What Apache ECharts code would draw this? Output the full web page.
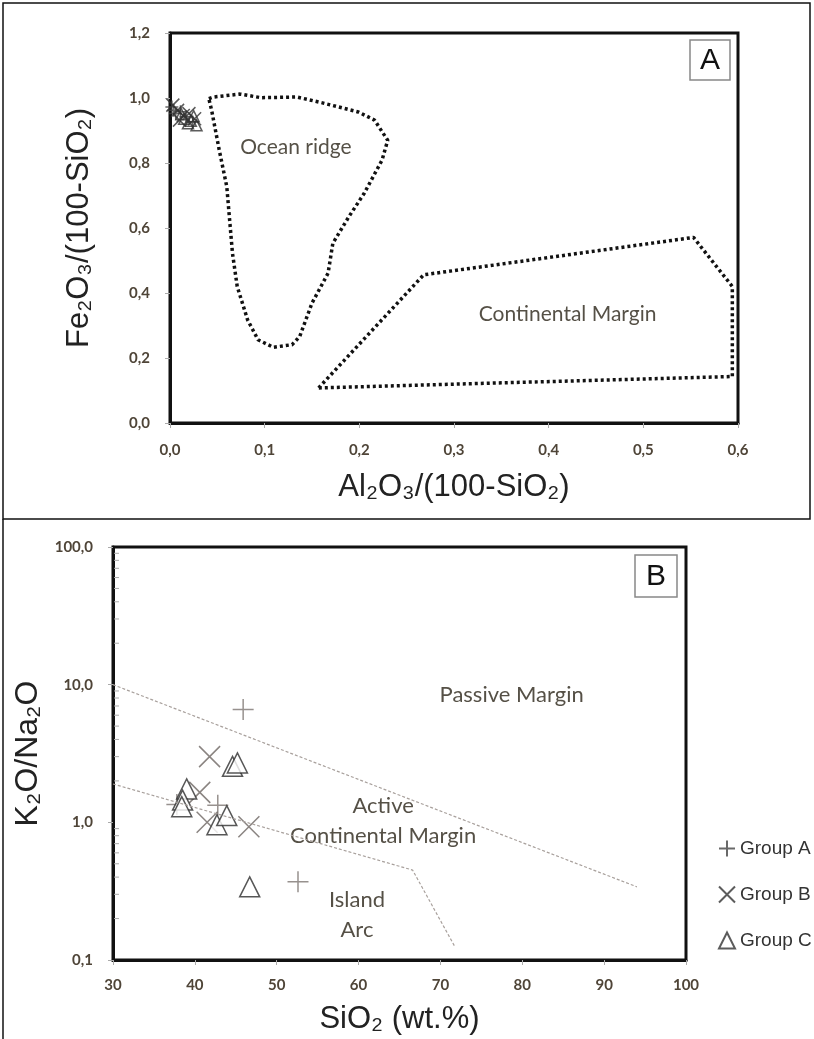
<!DOCTYPE html>
<html>
<head>
<meta charset="utf-8">
<script src="https://cdn.jsdelivr.net/npm/echarts@6.0.0/dist/echarts.min.js"></script>
<style>
html, body { margin: 0; padding: 0; background: #fff; }
#main { width: 814px; height: 1039px; }
</style>
</head>
<body>
<div id="main"></div>
<script>
// panel A : Fe2O3/(100-SiO2) vs Al2O3/(100-SiO2)
const topGroupA = [[0.002, 0.972], [0.006, 0.952], [0.011, 0.958], [0.017, 0.942], [0.004, 0.962], [0.024, 0.926]];
const topGroupB = [[0.003, 0.978], [0.008, 0.962], [0.014, 0.946], [0.020, 0.952], [0.010, 0.932], [0.026, 0.936]];
const topGroupC = [[0.015, 0.936], [0.022, 0.930], [0.028, 0.916], [0.012, 0.950], [0.025, 0.944], [0.019, 0.922]];
const oceanRidge = [
  [0.041, 0.998], [0.046, 1.003], [0.074, 1.012], [0.096, 1.001], [0.134, 1.003], [0.161, 0.985],
  [0.199, 0.957], [0.216, 0.932], [0.230, 0.870], [0.224, 0.809], [0.205, 0.706], [0.189, 0.635],
  [0.172, 0.553], [0.167, 0.461], [0.150, 0.369], [0.137, 0.266], [0.129, 0.241], [0.109, 0.233],
  [0.093, 0.256], [0.082, 0.317], [0.071, 0.420], [0.066, 0.522], [0.060, 0.727], [0.052, 0.840],
  [0.044, 0.962], [0.041, 0.998]
];
const continentalMargin = [[0.157, 0.108], [0.268, 0.456], [0.553, 0.571], [0.594, 0.420], [0.594, 0.143], [0.157, 0.108]];
const topLabels = [
  { name: 'Ocean ridge', value: [0.133, 0.849] },
  { name: 'Continental Margin', value: [0.420, 0.336] }
];

// panel B : K2O/Na2O vs SiO2
const botGroupA = [[45.9, 6.6], [42.8, 1.33], [37.8, 1.35], [52.6, 0.37]];
const botGroupB = [[41.8, 3.0], [40.6, 1.65], [41.5, 1.0], [46.6, 0.93]];
const botGroupC = [[44.6, 2.55], [45.2, 2.7], [39.0, 1.75], [38.5, 1.45], [38.4, 1.3], [42.7, 0.96], [43.9, 1.12], [46.7, 0.34]];
const passiveLine = [[30, 10], [94, 0.34]];
const arcLine = [[30, 1.9], [66.6, 0.45], [71.7, 0.127]];
const botLabels = [
  { name: 'Passive Margin', value: [78.7, 8.4] },
  { name: 'Active\nContinental Margin', value: [63.0, 1.03] },
  { name: 'Island\nArc', value: [59.8, 0.214] }
];
const minorTickValues = [0.2, 0.3, 0.4, 0.5, 0.6, 0.7, 0.8, 0.9, 2, 3, 4, 5, 6, 7, 8, 9, 20, 30, 40, 50, 60, 70, 80, 90];

const plusPath = 'path://M10,0L10,20M0,10L20,10';
const crossPath = 'path://M0,0L20,20M20,0L0,20';

const chart = echarts.init(document.getElementById('main'));

const comma = v => Number(v).toFixed(1).replace('.', ',');
const tickFont = { fontFamily: 'Lato', fontWeight: 'bold', fontSize: 15, color: '#4f4538' };
const nameFont = { fontFamily: 'Liberation Sans', fontSize: 31, color: '#222' };
const regionFont = { fontFamily: 'Lato', color: '#2b2418' };

function groupSeries(name, data, xi, symbol, size, color, fill) {
  return {
    name: name, type: 'scatter', xAxisIndex: xi, yAxisIndex: xi,
    symbol: symbol, symbolSize: size, data: data,
    itemStyle: { color: fill, borderColor: color, borderWidth: 1.5 }
  };
}

const option = {
  backgroundColor: '#fff',
  animation: false,
  grid: [
    { left: 170, top: 33, width: 568, height: 390, show: true, borderColor: '#111', borderWidth: 3, outerBoundsMode: 'none' },
    { left: 113, top: 547, width: 573, height: 413, show: true, borderColor: '#111', borderWidth: 3, outerBoundsMode: 'none' }
  ],
  xAxis: [
    {
      gridIndex: 0, type: 'value', min: 0, max: 0.6, interval: 0.1,
      name: 'Al₂O₃/(100-SiO₂)', nameLocation: 'middle', nameGap: 49, nameTextStyle: nameFont,
      axisLine: { lineStyle: { color: '#111', width: 3 } },
      axisTick: { length: 5, lineStyle: { color: '#aaa' } },
      axisLabel: Object.assign({ margin: 20, formatter: comma }, tickFont),
      splitLine: { show: false }
    },
    {
      gridIndex: 1, type: 'value', min: 30, max: 100, interval: 10,
      name: 'SiO₂ (wt.%)', nameLocation: 'middle', nameGap: 44, nameTextStyle: nameFont,
      axisLine: { lineStyle: { color: '#111', width: 3 } },
      axisTick: { length: 5, lineStyle: { color: '#aaa' } },
      axisLabel: Object.assign({ margin: 18 }, tickFont),
      splitLine: { show: false }
    }
  ],
  yAxis: [
    {
      gridIndex: 0, type: 'value', min: 0, max: 1.2, interval: 0.2,
      name: 'Fe₂O₃/(100-SiO₂)', nameLocation: 'middle', nameGap: 75, nameTextStyle: nameFont,
      axisLine: { lineStyle: { color: '#111', width: 3 } },
      axisTick: { length: 5, lineStyle: { color: '#aaa' } },
      axisLabel: Object.assign({ margin: 20, formatter: comma }, tickFont),
      splitLine: { show: false }
    },
    {
      gridIndex: 1, type: 'log', logBase: 10, min: 0.1, max: 100,
      name: 'K₂O/Na₂O', nameLocation: 'middle', nameGap: 59, nameTextStyle: Object.assign({}, nameFont, { fontSize: 32 }),
      axisLine: { lineStyle: { color: '#111', width: 3 } },
      axisTick: { length: 5, lineStyle: { color: '#aaa' } },
      axisLabel: Object.assign({ margin: 20, formatter: comma }, tickFont),
      splitLine: { show: false }
    }
  ],
  legend: {
    orient: 'vertical', left: 713, top: 834, itemGap: 27, itemWidth: 16, itemHeight: 16,
    data: ['Group A', 'Group B', 'Group C'],
    textStyle: { fontFamily: 'Liberation Sans', fontSize: 19, color: '#333' }
  },
  graphic: [
    { type: 'rect', shape: { x: 3, y: 3, width: 807, height: 516 }, style: { fill: null, stroke: '#111', lineWidth: 1.5 }, silent: true },
    { type: 'line', shape: { x1: 3, y1: 519, x2: 3, y2: 1039 }, style: { stroke: '#111', lineWidth: 1.5 }, silent: true },
    { type: 'rect', shape: { x: 690, y: 40, width: 40, height: 40 }, style: { fill: '#fff', stroke: '#888', lineWidth: 1.5 }, z: 10 },
    { type: 'text', x: 710, y: 61, style: { text: 'A', fontFamily: 'Liberation Sans', fontSize: 30, fill: '#111', align: 'center', verticalAlign: 'middle' }, z: 11 },
    { type: 'rect', shape: { x: 635, y: 555, width: 42, height: 42 }, style: { fill: '#fff', stroke: '#888', lineWidth: 1.5 }, z: 10 },
    { type: 'text', x: 656, y: 577, style: { text: 'B', fontFamily: 'Liberation Sans', fontSize: 30, fill: '#111', align: 'center', verticalAlign: 'middle' }, z: 11 }
  ],
  series: [
    // panel A fields
    {
      name: 'Ocean ridge field', type: 'line', xAxisIndex: 0, yAxisIndex: 0, data: oceanRidge,
      symbol: 'none', lineStyle: { color: '#111', width: 3.5, type: [3, 3] }
    },
    {
      name: 'Continental Margin field', type: 'line', xAxisIndex: 0, yAxisIndex: 0, data: continentalMargin,
      symbol: 'none', lineStyle: { color: '#111', width: 3.5, type: [3, 3] }
    },
    {
      name: 'top labels', type: 'scatter', xAxisIndex: 0, yAxisIndex: 0, data: topLabels, symbolSize: 0, silent: true,
      label: Object.assign({ show: true, position: 'inside', formatter: '{b}', fontSize: 21 }, regionFont)
    },
    groupSeries('Group A', topGroupA, 0, plusPath, 13, '#444', 'transparent'),
    groupSeries('Group B', topGroupB, 0, crossPath, 13, '#333', 'transparent'),
    groupSeries('Group C', topGroupC, 0, 'triangle', 11, '#333', 'transparent'),

    // panel B boundaries
    {
      name: 'passive boundary', type: 'line', xAxisIndex: 1, yAxisIndex: 1, data: passiveLine,
      symbol: 'none', lineStyle: { color: '#a8a09c', width: 1.2, type: [3, 2] }
    },
    {
      name: 'arc boundary', type: 'line', xAxisIndex: 1, yAxisIndex: 1, data: arcLine,
      symbol: 'none', lineStyle: { color: '#a8a09c', width: 1.2, type: [3, 2] }
    },
    {
      name: 'minor ticks', type: 'custom', xAxisIndex: 1, yAxisIndex: 1, silent: true,
      data: minorTickValues.map(v => [30, v]),
      renderItem: function (params, api) {
        const p = api.coord([api.value(0), api.value(1)]);
        return { type: 'line', shape: { x1: p[0] + 1, y1: p[1], x2: p[0] + 6, y2: p[1] }, style: { stroke: '#aaa', lineWidth: 1 } };
      }
    },
    {
      name: 'bottom labels', type: 'scatter', xAxisIndex: 1, yAxisIndex: 1, data: botLabels, symbolSize: 0, silent: true,
      label: Object.assign({ show: true, position: 'inside', formatter: '{b}', fontSize: 22, lineHeight: 30 }, regionFont)
    },
    groupSeries('Group A', botGroupA, 1, plusPath, 21, '#7d7572', 'transparent'),
    groupSeries('Group B', botGroupB, 1, crossPath, 21, '#6d6562', 'transparent'),
    groupSeries('Group C', botGroupC, 1, 'triangle', 20, '#2d2d2d', '#fff')
  ]
};

chart.setOption(option);
</script>
</body>
</html>
